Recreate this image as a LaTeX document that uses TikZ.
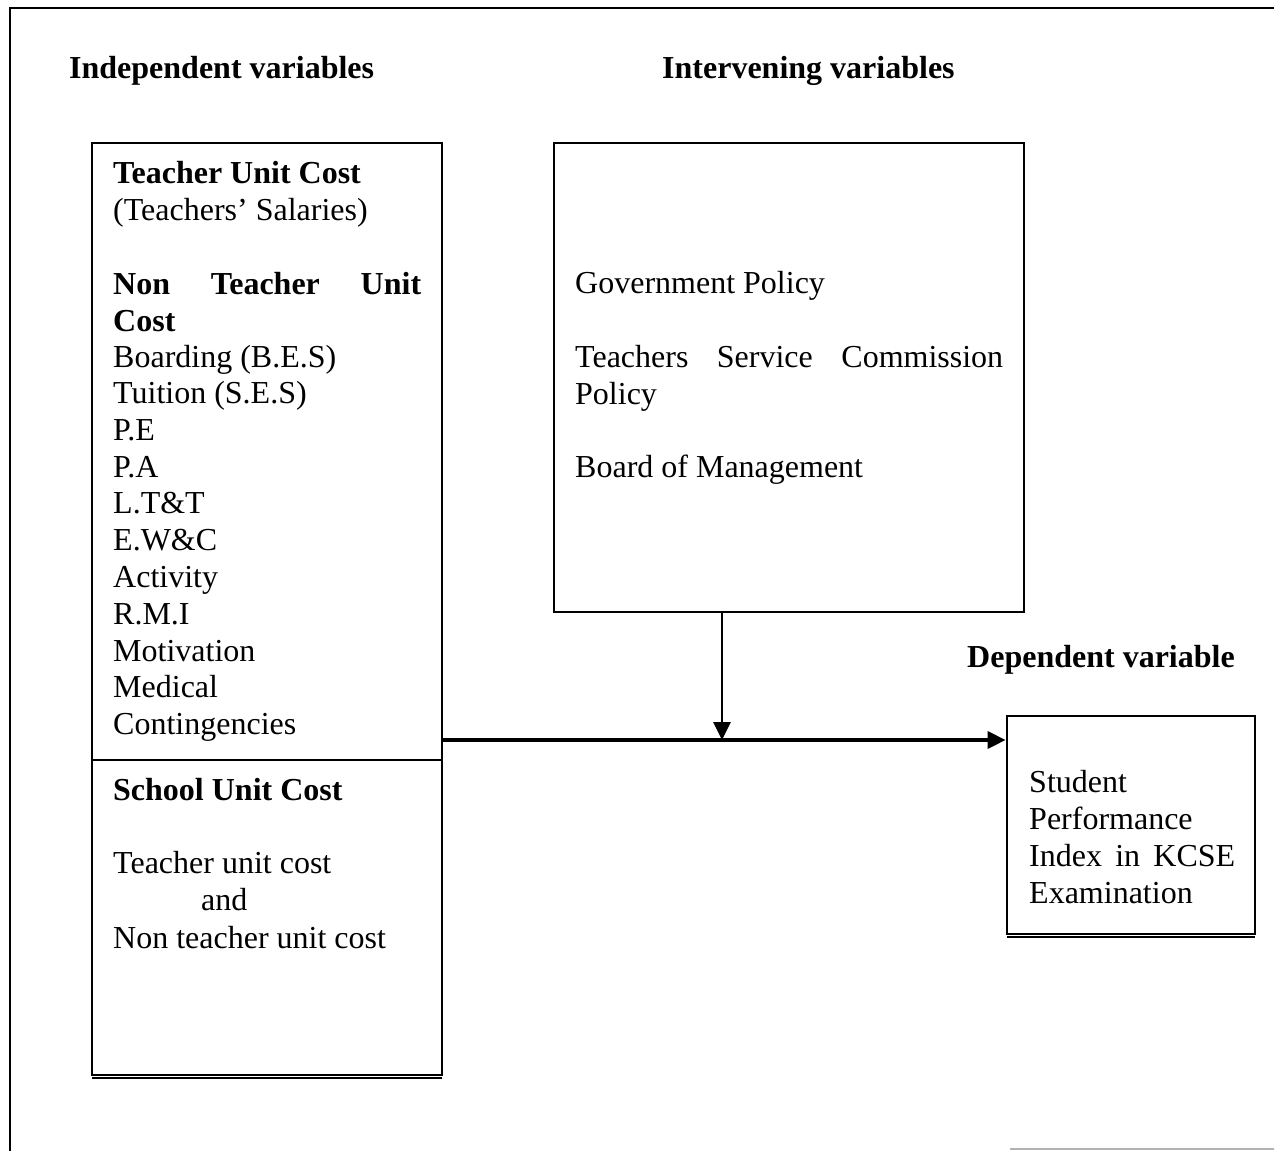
\documentclass[tikz,border=0pt]{standalone}
\usepackage{fontspec}
\setmainfont{Liberation Serif}
\usetikzlibrary{arrows.meta}
\begin{document}
\begin{tikzpicture}[x=1pt,y=-1pt,
  txt/.style={anchor=base west,inner sep=0pt,font=\fontsize{32}{37}\selectfont},
  btxt/.style={txt,font=\fontsize{32}{37}\selectfont\bfseries},
  boxline/.style={line width=2.8pt},
  arr/.style={line width=2.8pt,-{Triangle[length=18pt,width=17pt]}}]
\useasboundingbox (0,0) rectangle (1274,1151);
% outer frame (only top and left visible)
\draw[line width=2.8pt] (1274,8) -- (10,8) -- (10,1151);
\draw[line width=2pt,gray!60] (1010,1149) -- (1274,1149);
% titles
\node[btxt] (tind) at (69,78) {Independent variables};
\node[btxt] (tint) at (662,78) {Intervening variables};
\node[btxt] (tdep) at (967,667) {Dependent variable};
% boxes
\node[draw,boxline,minimum width=350pt,minimum height=932pt,inner sep=0pt] (lbox) at (267,609) {};
\draw[line width=1.8pt] (92,1078) -- (442,1078);
\draw[boxline] (lbox.west |- 0,760) coordinate (ldiv) -- (lbox.east |- 0,760);
\node[draw,boxline,minimum width=470pt,minimum height=469pt,inner sep=0pt] (ibox) at (789,377.5) {};
\node[draw,boxline,minimum width=248pt,minimum height=218pt,inner sep=0pt] (dbox) at (1131,825) {};
\draw[line width=1.8pt] (1007,937) -- (1255,937);
% left box text
\node[btxt] (l1) at (113,183) {Teacher Unit Cost};
\node[txt] (l2) at (113,220) {(Teachers’ Salaries)};
\node[btxt] (l3) at (113,294) {\makebox[308pt][s]{Non Teacher Unit}};
\node[btxt] (l4) at (113,331) {Cost};
\node[txt] (l5) at (113,367) {Boarding (B.E.S)};
\node[txt] (l6) at (113,403) {Tuition (S.E.S)};
\node[txt] (l7) at (113,440) {P.E};
\node[txt] (l8) at (113,477) {P.A};
\node[txt] (l9) at (113,513) {L.T\&T};
\node[txt] (l10) at (113,550) {E.W\&C};
\node[txt] (l11) at (113,587) {Activity};
\node[txt] (l12) at (113,624) {R.M.I};
\node[txt] (l13) at (113,661) {Motivation};
\node[txt] (l14) at (113,697) {Medical};
\node[txt] (l15) at (113,734) {Contingencies};
\node[btxt] (l16) at (113,800) {School Unit Cost};
\node[txt] (l17) at (113,873) {Teacher unit cost};
\node[txt] (l18) at (201,910) {and};
\node[txt] (l19) at (113,948) {Non teacher unit cost};
% intervening text
\node[txt] (r1) at (575,293) {Government Policy};
\node[txt] (r2) at (575,367) {\makebox[428pt][s]{Teachers Service Commission}};
\node[txt] (r3) at (575,404) {Policy};
\node[txt] (r4) at (575,477) {Board of Management};
% dependent text
\node[txt] (d1) at (1029,792) {Student};
\node[txt] (d2) at (1029,829) {Performance};
\node[txt] (d3) at (1029,866) {\makebox[206pt][s]{Index in KCSE}};
\node[txt] (d4) at (1029,903) {Examination};
% connectors
\coordinate (join) at (722,740);
\draw[arr] (ibox.south -| join) -- (join);
\draw[arr,line width=3.6pt] (lbox.east |- join) -- (dbox.west |- join);
\end{tikzpicture}
\end{document}
